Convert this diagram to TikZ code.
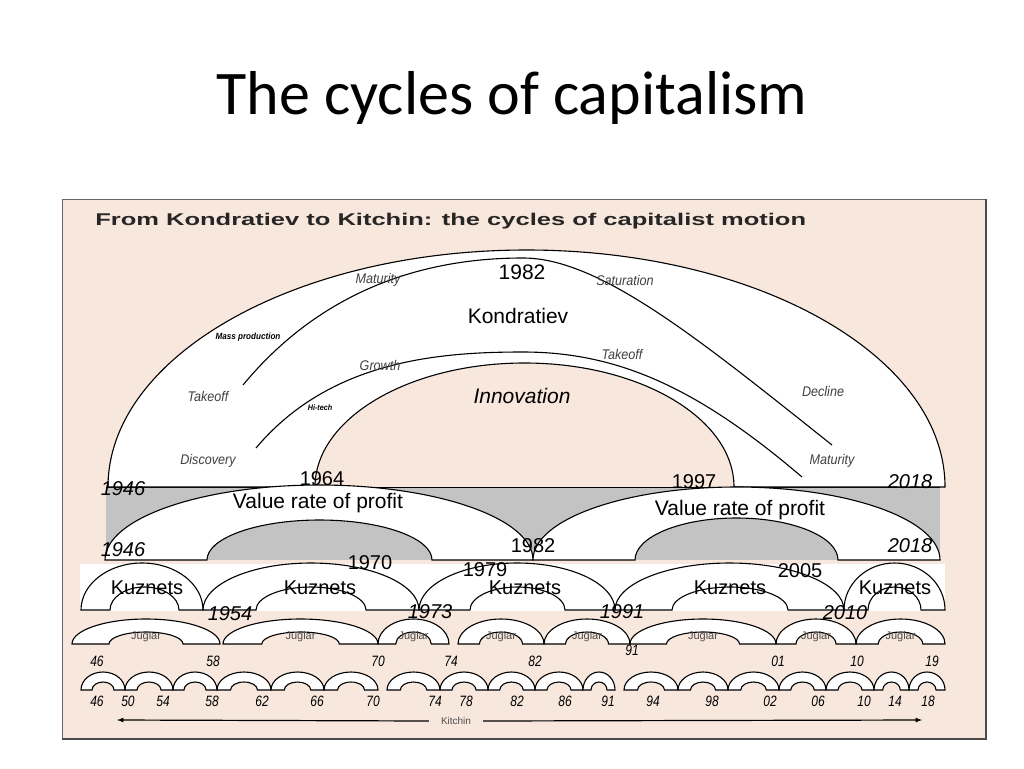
\documentclass[tikz,border=0pt]{standalone}
\usepackage{fontspec}
\setmainfont{Liberation Sans}
\newfontfamily\titlefont{Carlito}
\definecolor{beige}{HTML}{F8E7DC}
\definecolor{band}{HTML}{C3C3C3}
\tikzset{archstyle/.style={draw=black,fill=white,line width=1.1pt},
 curvestyle/.style={draw=black,line width=1.1pt},
 lab/.style={font=\fontsize{14}{15}\selectfont\itshape,inner sep=0pt,text=black!75,xscale=0.9},
 yr/.style={font=\fontsize{20}{21}\selectfont,inner sep=0pt},
 yri/.style={font=\fontsize{20}{21}\selectfont\itshape,inner sep=0pt},
 sm/.style={font=\fontsize{15}{16}\selectfont\itshape,inner sep=0pt,xscale=0.8},
 jl/.style={font=\fontsize{11}{12}\selectfont,inner sep=0pt,text=black!70},
 big/.style={font=\fontsize{21}{22}\selectfont,inner sep=0pt}}
\newcommand\archb[7]{%
 \pgfmathsetmacro\rxo{((#2)-(#1))/2}\pgfmathsetmacro\ryo{(#3)-(#4)}%
 \pgfmathsetmacro\rxi{((#6)-(#5))/2}\pgfmathsetmacro\ryi{(#3)-(#7)}%
 \draw[archstyle] (#1,#3) arc[start angle=180,end angle=360,x radius=\rxo,y radius=\ryo] -- (#6,#3)
  arc[start angle=360,end angle=180,x radius=\rxi,y radius=\ryi] -- cycle;}
\begin{document}
\begin{tikzpicture}[x=1pt,y=-1pt]
\useasboundingbox (0,0) rectangle (1024,768);
\fill[white] (0,0) rectangle (1024,768);
\node[font=\titlefont\fontsize{62}{66}\selectfont] (title) at (512,98) {The cycles of capitalism};
% panel
\draw[fill=beige,draw=black!60,line width=1pt] (62,199) rectangle (985,738);
\draw[black!70,line width=2.5pt] (986,199) -- (986,739) -- (62,739);
\node[anchor=west,font=\fontsize{17}{18}\selectfont\bfseries,text=black!85,inner sep=0pt,xscale=1.5] (ptitle) at (95,221) {From Kondratiev to Kitchin: the cycles of capitalist motion};
% gray band
\fill[band] (106,487) rectangle (940,560);
\draw[black,line width=1pt] (106,487) -- (940,487);
% Kondratiev
\archb{108}{945}{487}{250}{315}{734}{363}
\draw[curvestyle] (243,385) .. controls (330,280) and (440,258) .. (523,258) .. controls (600,258) and (700,340) .. (832,445);
\draw[curvestyle] (256,448) .. controls (330,360) and (440,352) .. (523,352) .. controls (620,352) and (700,390) .. (802,477);
\node[lab] (l1) at (378,280) {Maturity};
\node[big] (l2) at (522,272) {1982};
\node[lab] (l3) at (625,280) {Saturation};
\node[big] (l4) at (518,316) {Kondratiev};
\node[lab,font=\fontsize{9}{10}\selectfont\bfseries\itshape,text=black] (l5) at (248,337) {Mass production};
\node[lab] (l6) at (622,354) {Takeoff};
\node[lab] (l7) at (380,365) {Growth};
\node[lab] (l8) at (208,396) {Takeoff};
\node[lab,font=\fontsize{8}{9}\selectfont\bfseries\itshape,text=black] (l9) at (320,408) {Hi-tech};
\node[big,font=\fontsize{21}{22}\selectfont\itshape] (l10) at (522,396) {Innovation};
\node[lab] (l11) at (823,391) {Decline};
\node[lab] (l12) at (208,461) {Discovery};
\node[lab] (l13) at (832,461) {Maturity};
\node[yri] (y1) at (123,489) {1946};
\node[yr] (y2) at (322,479) {1964};
\node[yr] (y3) at (694,482) {1997};
\node[yri] (y4) at (910,482) {2018};
% value rate of profit
\archb{105}{533}{560}{485}{207}{432}{520}
\archb{533}{940}{560}{487}{635}{838}{518}
\node[big] (v1) at (318,503) {Value rate of profit};
\node[big] (v2) at (740,510) {Value rate of profit};
\node[yri] (y5) at (123,550) {1946};
\node[yr] (y6) at (533,546) {1982};
\node[yri] (y7) at (910,546) {2018};
% Kuznets
\fill[white] (80,564) rectangle (945,611);
\archb{81}{203}{610}{563}{110}{179}{587}
\archb{203}{419}{610}{563}{256}{366}{587}
\archb{419}{615}{610}{563}{470}{565}{587}
\archb{615}{844}{610}{563}{672}{788}{587}
\archb{844}{945}{610}{563}{868}{921}{587}
\foreach \x/\n in {147/k1,320/k2,525/k3,730/k4,895/k5}
  \node[yr] (\n) at (\x,588) {Kuznets};
\node[yr] (y8) at (370,563) {1970};
\node[yr] (y9) at (485,570) {1979};
\node[yr] (y10) at (800,571) {2005};
\node[yri] (y11) at (230,614) {1954};
\node[yri] (y12) at (430,612) {1973};
\node[yri] (y13) at (622,612) {1991};
\node[yri] (y14) at (845,613) {2010};
% Juglar
\foreach \a/\b/\n in {72/220/j1,223/378/j2,378/449/j3,458/544/j4,544/630/j5,630/776/j6,776/856/j7,856/945/j8}{
  \pgfmathsetmacro\w{(\b-\a)/4}
  \pgfmathsetmacro\il{\a+\w}\pgfmathsetmacro\ir{\b-\w}
  \archb{\a}{\b}{644}{619}{\il}{\ir}{632}
  \node[jl] (\n) at ({(\a+\b)/2},637) {Juglar};}
\foreach \x/\t/\n in {97/46/a1,213/58/a2,378/70/a3,451/74/a4,535/82/a5,778/01/a6,857/10/a7,932/19/a8}
  \node[sm] (\n) at (\x,661) {\t};
\node[sm] (a9) at (632,650) {91};
% Kitchin
\foreach \a/\b in {81/125,125/173,173/217,217/271,271/324,324/378,387/440,440/488,488/535,535/583,583/615,624/678,678/728,728/779,779/826,826/874,874/909,909/945}{
  \pgfmathsetmacro\w{(\b-\a)/4}
  \pgfmathsetmacro\il{\a+\w}\pgfmathsetmacro\ir{\b-\w}
  \archb{\a}{\b}{690}{672}{\il}{\ir}{682}}
\foreach \x/\t [count=\i] in {97/46,128/50,163/54,212/58,262/62,317/66,373/70,435/74,466/78,517/82,565/86,608/91,653/94,712/98,770/02,818/06,864/10,895/14,928/18}
  \node[sm] (b\i) at (\x,701) {\t};
\node[jl,font=\fontsize{10}{11}\selectfont] (kit) at (456,721) {Kitchin};
\coordinate (kl) at (117,720);
\coordinate (kr) at (922,720);
\draw[-latex,line width=1.2pt] (kit.west) ++(-12,0) -- (kl);
\draw[-latex,line width=1.2pt] (kit.east) ++(12,0) -- (kr);
\end{tikzpicture}
\end{document}
